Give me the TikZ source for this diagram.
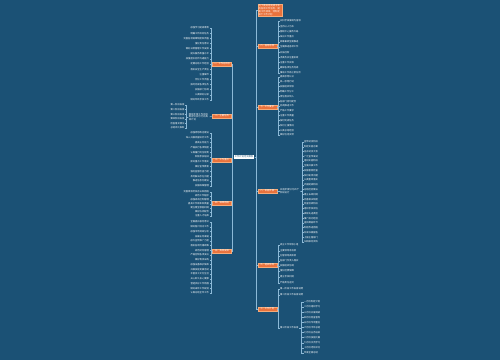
\documentclass[tikz,border=0pt]{standalone}
\usepackage{fontspec}
\newfontfamily\cjk{Noto Sans CJK SC}
\XeTeXlinebreaklocale "zh"
\XeTeXlinebreakskip=0pt plus 0.5pt
\definecolor{bgc}{RGB}{27,81,117}
\definecolor{orgc}{RGB}{233,114,60}
\definecolor{orgb}{RGB}{246,170,120}
\definecolor{lnc}{RGB}{140,185,215}
\begin{document}
\begin{tikzpicture}[x=1pt,y=-1pt,
 every node/.style={inner sep=0pt,font=\cjk\fontsize{2.3}{2.8}\selectfont},
 branch/.style={fill=orgc,draw=orgb,line width=0.3pt,text=white,inner xsep=1pt,inner ysep=0.6pt,minimum width=19pt},
 leaf/.style={text=white,inner xsep=0.4pt,inner ysep=0.3pt},
 hub/.style={fill=white,text=bgc,inner xsep=1.2pt,inner ysep=0.8pt},
 conn/.style={draw=lnc,line width=0.45pt},
 trunk/.style={draw=lnc,line width=0.8pt}]
\fill[bgc] (0,0) rectangle (500,360);
\useasboundingbox (0,0) rectangle (500,360);

% centre
\node[hub] (C) at (244,157) {工作计划范文模板};

% left branches
\node[branch,anchor=east] (L1) at (231.6,64) {一、工作总目标};
\node[branch,anchor=east] (L2) at (231.6,116) {二、主要任务};
\node[branch,anchor=east] (L3) at (231.6,160) {三、工作重点};
\node[branch,anchor=east] (L4) at (231.6,203) {四、保障措施};
\node[branch,anchor=east] (L5) at (231.6,251) {五、具体安排};
\foreach \n in {L1,L2,L3,L4,L5} {\draw[trunk] (C.west) -- (232.3,157) |- (\n.east);}

% right branches
\node[branch,anchor=north west,text width=22pt,align=left,minimum width=0pt,inner ysep=0.8pt] (R0) at (257.5,4) {为了更好地完成今年的各项工作任务，提高工作效率，特制定如下工作计划};
\node[branch,anchor=west] (R1) at (257.5,46) {六、指导思想};
\node[branch,anchor=west] (R2) at (257.5,107) {七、工作要求};
\node[branch,anchor=west] (R3) at (257.5,191) {八、实施步骤};
\node[branch,anchor=west] (R4) at (257.5,265) {九、组织领导};
\node[branch,anchor=west] (R5) at (257.5,309) {十、工作计划};
\foreach \n in {R0,R1,R2,R3,R4,R5} {\draw[trunk] (C.east) -- (256,157) |- (\n.west);}

% L1 leaves
\foreach \t [count=\i] in {加强学习提高素质,明确工作目标任务,完善各项规章制度和流程,强化责任意识,做好日常管理工作安排,提升服务质量水平,加强团队协作沟通能力,定期总结工作经验,落实安全生产责任,注重细节,优化工作流程,按时完成各项任务,加强部门协调,认真做好记录,做好年终考核工作} {
  \pgfmathsetmacro\yy{28+(\i-1)*5.14}
  \node[leaf,anchor=east] (L1-\i) at (209.5,\yy) {\t};
  \draw[conn] (L1.west) -- (211,64) |- (L1-\i.east);
}

% L2 child and leaves
\node[leaf,anchor=east,text width=20pt,align=left] (L2c) at (209.5,117) {围绕年度工作目标制定切实可行的具体计划};
\draw[conn] (L2.west) -- (L2c.east);
\foreach \t [count=\i] in {第一阶段安排,第二阶段安排,第三阶段安排,第四阶段安排,检查落实情况,总结评比表彰} {
  \pgfmathsetmacro\yy{105+(\i-1)*4.6}
  \node[leaf,anchor=east] (L2-\i) at (185,\yy) {\t};
  \draw[conn] (L2c.west) -- (186.5,117) |- (L2-\i.east);
}

% L3 leaves
\foreach \t [count=\i] in {加强思想政治建设,深入开展调查研究工作,提高业务能力,严格执行各项制度,认真履行岗位职责,积极参加培训,抓好重点工作落实,做好宣传教育,强化监督检查力度,及时解决存在问题,推进信息化建设,加强档案管理} {
  \pgfmathsetmacro\yy{133+(\i-1)*4.8}
  \node[leaf,anchor=east] (L3-\i) at (209.5,\yy) {\t};
  \draw[conn] (L3.west) -- (211,160) |- (L3-\i.east);
}

% L4 leaves
\foreach \t [count=\i] in {完善绩效考核办法和措施,规范工作程序,加强成本控制管理,提高工作效率和质量,建立健全激励机制,做好协调配合,注重人才培养} {
  \pgfmathsetmacro\yy{192+(\i-1)*4}
  \node[leaf,anchor=east] (L4-\i) at (209.5,\yy) {\t};
  \draw[conn] (L4.west) -- (211,203) |- (L4-\i.east);
}

% L5 leaves
\foreach \t [count=\i] in {全面提升服务意识,做好客户回访工作,加强市场调研分析,拓展业务渠道,加大宣传推广力度,落实各项优惠政策,规范财务管理,严格控制各项支出,做好物资采购,加强设备维护保养,开展技能竞赛活动,丰富员工文化生活,关心职工身心健康,营造良好工作氛围,做好来年工作规划,认真总结全年工作} {
  \pgfmathsetmacro\yy{222+(\i-1)*4.73}
  \node[leaf,anchor=east] (L5-\i) at (209.5,\yy) {\t};
  \draw[conn] (L5.west) -- (211,251) |- (L5-\i.east);
}

% R1 leaves
\foreach \t [count=\i] in {以科学发展观为指导,坚持以人为本,围绕中心服务大局,突出工作重点,统筹兼顾全面推进,全面推进各项工作,开拓创新,求真务实注重实效,注重工作实效,确保各项任务完成,推动工作再上新台阶} {
  \pgfmathsetmacro\yy{21+(\i-1)*5.2}
  \node[leaf,anchor=west] (R1-\i) at (279.5,\yy) {\t};
  \draw[conn] (R1.east) -- (278,46) |- (R1-\i.west);
}

% R2 leaves
\foreach \t [count=\i] in {提高思想认识,统一思想行动,加强组织领导,明确工作分工,责任落实到人,各部门密切配合,协调推进工作,严格工作要求,注重工作质量,按时完成任务,及时上报情况,认真总结经验,做好信息反馈} {
  \pgfmathsetmacro\yy{77+(\i-1)*4.83}
  \node[leaf,anchor=west] (R2-\i) at (279.5,\yy) {\t};
  \draw[conn] (R2.east) -- (278,107) |- (R2-\i.west);
}

% R3 child and leaves
\node[leaf,anchor=west,text width=20pt,align=left] (R3c) at (279.5,191) {实施步骤分为四个阶段进行};
\draw[conn] (R3.east) -- (R3c.west);
\foreach \t [count=\i] in {宣传动员阶段,制定实施方案,召开动员大会,广泛宣传发动,组织实施阶段,全面开展工作,加强督促检查,及时发现问题,认真整改落实,巩固提高阶段,总结经验做法,建立长效机制,完善相关制度,检查验收阶段,组织考核评估,表彰先进典型,推广成功经验,查找薄弱环节,制定改进措施,形成书面报告,上报主管部门,归档保存资料} {
  \pgfmathsetmacro\yy{142+(\i-1)*4.76}
  \node[leaf,anchor=west] (R3-\i) at (303.5,\yy) {\t};
  \draw[conn] (R3c.east) -- (302,191) |- (R3-\i.west);
}

% R4 leaves
\foreach \t/\yy [count=\i] in {成立工作领导小组/245,主要领导亲自抓/251,分管领导具体抓/256,各部门负责人落实/261,加强组织协调/266,强化经费保障/271,建立考核机制/277,严格责任追究/283} {
  \node[leaf,anchor=west] (R4-\i) at (279.5,\yy) {\t};
  \draw[conn] (R4.east) -- (278,265) |- (R4-\i.west);
}

% R5 children
\node[leaf,anchor=west] (R5a) at (279.5,289) {第一阶段工作安排说明};
\node[leaf,anchor=west] (R5b) at (279.5,295) {第二阶段工作安排说明};
\node[leaf,anchor=west] (R5c) at (279.5,328) {第三阶段工作安排};
\foreach \n in {R5a,R5b,R5c} {\draw[conn] (R5.east) -- (278,309) |- (\n.west);}
\foreach \t [count=\i] in {一月份制定计划,二月份组织学习,三月份开展调研,四月份检查督导,五月份专项整治,六月份半年总结,七月份业务培训,八月份技能比赛,九月份交流学习,十月份考核评比,年底全面总结} {
  \pgfmathsetmacro\yy{302+(\i-1)*5.1}
  \node[leaf,anchor=west] (R5-\i) at (303.5,\yy) {\t};
  \draw[conn] (R5c.east) -- (301.5,328) |- (R5-\i.west);
}
\end{tikzpicture}
\end{document}
